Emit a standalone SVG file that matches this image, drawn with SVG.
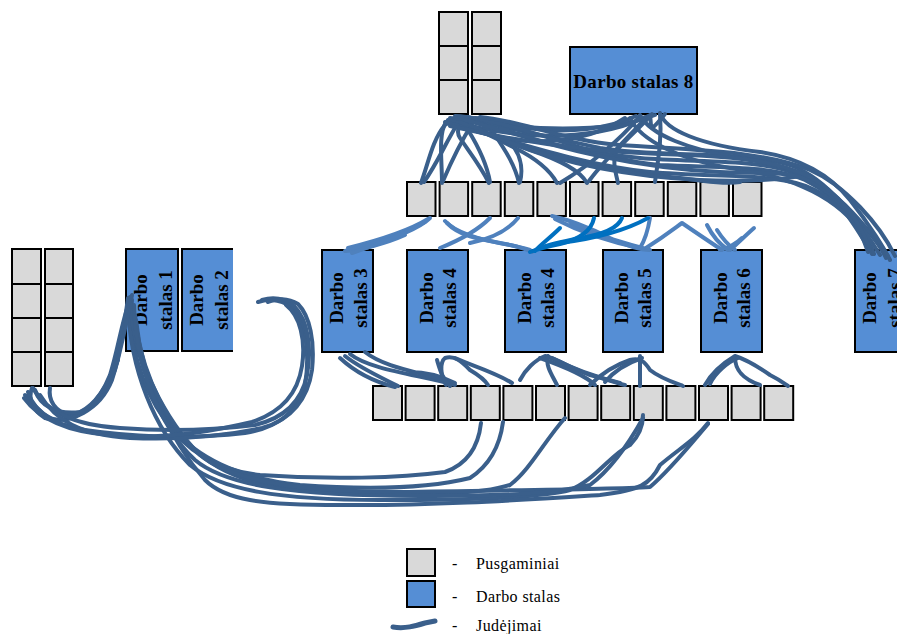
<svg xmlns="http://www.w3.org/2000/svg" width="897" height="634" viewBox="0 0 897 634">
  <style>
    .cell { fill: #d9d9d9; stroke: #000; stroke-width: 2; }
    .desk { fill: #558ed5; stroke: #000; stroke-width: 2; }
    .lbl { font-family: "Liberation Serif", "Times New Roman", serif; font-weight: bold; font-size: 19px; fill: #000; }
    .leg { font-family: "Liberation Serif", "Times New Roman", serif; font-size: 16px; fill: #000; letter-spacing: 0.4px; }
    .mv { fill: none; stroke: #3a5f8b; stroke-width: 4; stroke-linecap: round; stroke-linejoin: round; }
    .lt { stroke: #4f81bd; }
    .br { stroke: #0070c0; }
  </style>

  <rect width="897" height="634" fill="#fff"/>

  <!-- storage racks (semi-finished parts) -->
  <g id="rack-top">
    <rect class="cell" x="439" y="12" width="29" height="34"/>
    <rect class="cell" x="439" y="46" width="29" height="34"/>
    <rect class="cell" x="439" y="80" width="29" height="34"/>
    <rect class="cell" x="472" y="12" width="29" height="34"/>
    <rect class="cell" x="472" y="46" width="29" height="34"/>
    <rect class="cell" x="472" y="80" width="29" height="34"/>
  </g>
  <g id="rack-left">
    <rect class="cell" x="12" y="249" width="29" height="35"/>
    <rect class="cell" x="12" y="284" width="29" height="34"/>
    <rect class="cell" x="12" y="318" width="29" height="34"/>
    <rect class="cell" x="12" y="352" width="29" height="34"/>
    <rect class="cell" x="45" y="249" width="28" height="35"/>
    <rect class="cell" x="45" y="284" width="28" height="34"/>
    <rect class="cell" x="45" y="318" width="28" height="34"/>
    <rect class="cell" x="45" y="352" width="28" height="34"/>
  </g>
  <g id="row-upper">
    <rect class="cell" x="407" y="182" width="28.5" height="34"/>
    <rect class="cell" x="439.6" y="182" width="28.5" height="34"/>
    <rect class="cell" x="472.2" y="182" width="28.5" height="34"/>
    <rect class="cell" x="504.8" y="182" width="28.5" height="34"/>
    <rect class="cell" x="537.4" y="182" width="28.5" height="34"/>
    <rect class="cell" x="570" y="182" width="28.5" height="34"/>
    <rect class="cell" x="602.6" y="182" width="28.5" height="34"/>
    <rect class="cell" x="635.2" y="182" width="28.5" height="34"/>
    <rect class="cell" x="667.8" y="182" width="28.5" height="34"/>
    <rect class="cell" x="700.4" y="182" width="28.5" height="34"/>
    <rect class="cell" x="733" y="182" width="28.5" height="34"/>
  </g>
  <g id="row-lower">
    <rect class="cell" x="373" y="386" width="29" height="34"/>
    <rect class="cell" x="405.6" y="386" width="29" height="34"/>
    <rect class="cell" x="438.2" y="386" width="29" height="34"/>
    <rect class="cell" x="470.8" y="386" width="29" height="34"/>
    <rect class="cell" x="503.4" y="386" width="29" height="34"/>
    <rect class="cell" x="536" y="386" width="29" height="34"/>
    <rect class="cell" x="568.6" y="386" width="29" height="34"/>
    <rect class="cell" x="601.2" y="386" width="29" height="34"/>
    <rect class="cell" x="633.8" y="386" width="29" height="34"/>
    <rect class="cell" x="666.4" y="386" width="29" height="34"/>
    <rect class="cell" x="699" y="386" width="29" height="34"/>
    <rect class="cell" x="731.6" y="386" width="29" height="34"/>
    <rect class="cell" x="764.2" y="386" width="29" height="34"/>
  </g>

  <!-- work tables -->
  <g id="desk-1">
    <rect class="desk" x="126" y="249" width="52" height="102"/>
    <text class="lbl" text-anchor="middle" transform="translate(152,300) rotate(-90)"><tspan x="0" y="-5">Darbo</tspan><tspan x="0" y="20">stalas 1</tspan></text>
  </g>
  <g id="desk-2">
    <rect x="182" y="249" width="51" height="102" fill="#558ed5"/>
    <path d="M233,249 H182 V351 H233" fill="none" stroke="#000" stroke-width="2"/>
    <text class="lbl" text-anchor="middle" transform="translate(207.5,300) rotate(-90)"><tspan x="0" y="-5">Darbo</tspan><tspan x="0" y="20">stalas 2</tspan></text>
  </g>
  <g id="desk-3">
    <rect class="desk" x="322" y="250" width="51" height="102"/>
    <text class="lbl" text-anchor="middle" transform="translate(348,298) rotate(-90)"><tspan x="0" y="-5">Darbo</tspan><tspan x="0" y="19">stalas 3</tspan></text>
  </g>
  <g id="desk-4a">
    <rect class="desk" x="407" y="250" width="61" height="102"/>
    <text class="lbl" text-anchor="middle" transform="translate(437.5,298) rotate(-90)"><tspan x="0" y="-5">Darbo</tspan><tspan x="0" y="18">stalas 4</tspan></text>
  </g>
  <g id="desk-4b">
    <rect class="desk" x="505" y="250" width="61" height="102"/>
    <text class="lbl" text-anchor="middle" transform="translate(535.5,298) rotate(-90)"><tspan x="0" y="-5">Darbo</tspan><tspan x="0" y="18">stalas 4</tspan></text>
  </g>
  <g id="desk-5">
    <rect class="desk" x="603" y="250" width="60" height="102"/>
    <text class="lbl" text-anchor="middle" transform="translate(633,298) rotate(-90)"><tspan x="0" y="-5">Darbo</tspan><tspan x="0" y="18">stalas 5</tspan></text>
  </g>
  <g id="desk-6">
    <rect class="desk" x="701" y="250" width="61" height="102"/>
    <text class="lbl" text-anchor="middle" transform="translate(731.5,298) rotate(-90)"><tspan x="0" y="-5">Darbo</tspan><tspan x="0" y="18">stalas 6</tspan></text>
  </g>
  <g id="desk-7">
    <rect class="desk" x="855" y="250" width="52" height="102"/>
    <text class="lbl" text-anchor="middle" transform="translate(881,298) rotate(-90)"><tspan x="0" y="-5">Darbo</tspan><tspan x="0" y="20">stalas 7</tspan></text>
  </g>
  <g id="desk-8">
    <rect class="desk" x="570" y="47" width="127" height="67"/>
    <text class="lbl" x="633.5" y="88" text-anchor="middle" letter-spacing="0.3">Darbo stalas 8</text>
  </g>

  <!-- movement paths -->
  <g id="connectors">
    <!-- upper rack / table 8 fan-out to the upper row -->
    <path class="mv" d="M421,183 C428,165 432,140 445,125 C455,117 470,120 480,118"/>
    <path class="mv" d="M424,182 C438,162 446,142 458,123"/>
    <path class="mv" d="M442,183 C442,160 438,135 446,122 C456,114 472,118 490,122"/>
    <path class="mv" d="M443,181 C452,160 462,140 472,124"/>
    <path class="mv" d="M489,183 C480,165 468,150 460,138 C455,130 460,122 470,120"/>
    <path class="mv" d="M490,182 C487,165 478,146 468,130"/>
    <path class="mv" d="M519,183 C515,165 505,150 495,135 C488,125 480,120 468,117"/>
    <path class="mv" d="M520,182 C524,166 519,151 508,140"/>
    <path class="mv" d="M557,183 C550,170 535,158 515,148 C495,138 475,128 458,120"/>
    <path class="mv" d="M587,183 C580,170 560,160 530,150 C505,142 480,130 463,122"/>
    <path class="mv" d="M589,181 C600,165 625,140 648,116"/>
    <path class="mv" d="M560,183 C590,165 620,140 640,116"/>
    <path class="mv" d="M618,183 C615,170 612,160 617,150 C627,138 642,126 652,114"/>
    <path class="mv" d="M655,182 C658,160 662,140 660,114"/>
    <path class="mv" d="M650,115 C652,128 648,135 665,114"/>
    <path class="mv" d="M655,115 C630,125 590,130 540,128 C500,126 470,120 450,118"/>
    <path class="mv" d="M645,117 C620,130 580,138 530,135 C490,132 465,125 448,120"/>
    <path class="mv" d="M636,116 C610,128 570,135 520,127 C490,122 470,116 455,116"/>
    <path class="mv" d="M625,118 C600,135 560,145 515,140 C485,135 468,128 452,124"/>

    <!-- long run towards table 7 -->
    <path class="mv" d="M455,118 C500,125 540,135 600,148 C660,158 740,150 790,165 C830,180 858,220 868,252"/>
    <path class="mv" d="M465,120 C520,135 560,150 640,158 C700,163 760,158 800,175 C835,190 855,225 872,254"/>
    <path class="mv" d="M475,118 C540,130 600,160 660,165 C720,168 770,165 805,180 C840,198 870,230 885,254"/>
    <path class="mv" d="M445,122 C510,140 580,165 650,172 C720,178 780,172 815,190 C845,205 875,235 888,256"/>
    <path class="mv" d="M480,117 C520,120 560,140 620,145 C690,150 760,150 810,170 C845,185 880,225 895,256"/>
    <path class="mv" d="M640,115 C650,135 690,150 740,158 C790,165 820,180 845,205 C865,225 880,245 886,258"/>
    <path class="mv" d="M660,113 C665,130 700,145 760,152 C800,158 830,175 850,200 C870,225 885,250 890,260"/>
    <path class="mv" d="M630,118 C640,140 680,160 730,168 C780,175 830,190 860,230 C868,240 872,248 874,254"/>
    <path class="mv" d="M460,122 C520,150 600,172 680,178 C710,182 728,184 740,182"/>
    <path class="mv" d="M470,125 C540,160 620,176 700,180 C740,182 780,180 800,176"/>
    <path class="mv" d="M500,128 C560,150 640,168 720,172 C760,174 790,170 812,182 C840,198 862,225 880,255"/>
    <path class="mv" d="M450,126 C520,142 590,152 660,154 C730,156 775,160 808,176 C838,192 860,220 870,250"/>

    <!-- upper row to tables 3-6 (light strokes) -->
    <path class="mv lt" d="M428,219 C410,230 380,240 348,248"/>
    <path class="mv lt" d="M425,222 C405,233 375,245 345,251 C360,250 385,244 405,235"/>
    <path class="mv lt" d="M430,218 C420,228 395,238 352,253"/>
    <path class="mv lt" d="M445,221 C455,232 480,240 510,245 C520,247 528,250 532,252"/>
    <path class="mv lt" d="M447,223 C465,242 500,240 530,250"/>
    <path class="mv lt" d="M490,218 C480,228 465,238 440,248"/>
    <path class="mv lt" d="M518,218 C510,228 495,238 470,243"/>
    <path class="mv lt" d="M552,216 C570,220 590,228 610,238 C625,245 640,250 650,250 C630,245 600,236 570,225"/>
    <path class="mv lt" d="M555,219 C580,232 610,242 640,248"/>
    <path class="mv lt" d="M650,218 C648,230 645,240 640,248"/>
    <path class="mv lt" d="M646,248 C665,236 675,228 682,223 C695,232 710,242 722,250"/>
    <path class="mv lt" d="M707,225 C712,235 718,243 728,250"/>
    <path class="mv lt" d="M754,228 C745,236 738,243 730,250"/>
    <path class="mv lt" d="M717,230 C722,238 728,245 735,250"/>
    <path class="mv lt" d="M742,238 C735,245 728,248 720,250"/>
    <path class="mv br" d="M594,218 C592,228 585,238 560,244 C545,247 535,250 530,252"/>
    <path class="mv br" d="M622,218 C618,228 605,234 580,238 C560,242 545,246 540,248"/>
    <path class="mv br" d="M648,218 C630,228 600,238 560,243"/>
    <path class="mv br" d="M560,228 C550,238 540,245 535,251"/>

    <!-- tables 3-6 to lower row -->
    <path class="mv" d="M345,356 C360,368 378,376 398,386"/>
    <path class="mv" d="M350,354 C370,370 420,375 455,385"/>
    <path class="mv" d="M365,352 C385,368 420,372 455,383 C445,378 430,372 410,372"/>
    <path class="mv" d="M340,358 C355,372 375,382 395,387"/>
    <path class="mv" d="M446,385 C440,375 440,362 445,358 C455,355 462,362 470,370 C480,376 485,380 488,385"/>
    <path class="mv" d="M455,358 C470,365 495,372 512,383"/>
    <path class="mv" d="M437,360 C440,370 442,378 450,386"/>
    <path class="mv" d="M520,380 C525,370 535,360 545,356 C560,360 570,368 590,375 C610,380 620,384 625,385"/>
    <path class="mv" d="M548,356 C545,365 552,375 557,385"/>
    <path class="mv" d="M540,358 C560,365 585,375 595,385"/>
    <path class="mv" d="M552,358 C575,370 600,378 620,383"/>
    <path class="mv" d="M590,385 C600,375 615,365 630,360 C640,357 645,362 650,370 C660,378 675,383 683,386"/>
    <path class="mv" d="M640,356 C640,368 640,378 640,386"/>
    <path class="mv" d="M605,382 C615,370 630,362 642,358"/>
    <path class="mv" d="M705,385 C712,372 725,362 735,356 C748,360 760,368 770,375 C780,380 785,384 788,386"/>
    <path class="mv" d="M735,357 C735,368 740,378 760,385"/>
    <path class="mv" d="M710,384 C715,373 728,362 738,358"/>

    <!-- table 1 to lower row -->
    <path class="mv" d="M132,300 C128,340 140,385 165,420 C185,450 215,470 260,475 C330,480 400,478 445,472 C465,465 478,450 481,423"/>
    <path class="mv" d="M130,297 C133,350 150,395 175,430 C195,455 235,478 300,485 C370,490 430,488 470,478 C490,465 500,445 503,422"/>
    <path class="mv" d="M135,315 C138,360 160,410 185,440 C215,475 260,490 340,493 C420,495 480,495 510,485 C530,470 545,440 565,418"/>
    <path class="mv" d="M128,305 C130,370 155,430 190,465 C220,490 280,500 380,500 C460,500 540,498 570,490 C595,480 610,455 630,445 C640,435 643,425 643,415"/>
    <path class="mv" d="M136,320 C142,380 170,440 205,480 C225,500 260,505 340,505 C430,506 520,500 600,495 C640,490 650,485 660,465 C680,448 695,440 708,423"/>
    <path class="mv" d="M131,310 C135,360 165,420 200,455 C230,480 300,492 400,492 C500,490 600,490 650,487 C670,470 690,445 708,424"/>
    <path class="mv" d="M134,305 C136,365 158,425 195,460 C225,485 290,496 420,496 C520,496 560,492 590,485 C610,470 628,445 643,418"/>

    <!-- left rack to table 1 -->
    <path class="mv" d="M32,388 C28,398 32,410 45,418 C70,425 100,410 112,380 C120,355 125,320 128,298"/>
    <path class="mv" d="M50,388 C48,400 55,412 70,415 C90,412 105,395 115,370 C122,345 128,315 132,295"/>
    <path class="mv" d="M25,395 C35,405 45,420 60,420 C85,418 100,400 110,375 C118,350 122,320 130,300"/>
    <path class="mv" d="M35,390 C40,405 55,415 80,412 C95,405 108,385 118,360"/>

    <!-- left rack loop to table 2 -->
    <path class="mv" d="M28,392 C35,415 60,428 100,432 C150,438 200,438 245,433 C278,428 300,410 305,385 C310,355 306,325 295,310 C285,300 270,298 258,302"/>
    <path class="mv" d="M33,388 C45,410 70,425 120,428 C170,432 215,430 255,425 C285,418 302,400 307,375 C312,348 308,320 294,306 C284,298 272,297 262,300"/>
    <path class="mv" d="M40,395 C55,420 80,435 130,438 C180,440 225,436 262,428 C292,420 308,398 312,370 C315,342 310,316 298,304 C288,298 276,298 268,302"/>
    <path class="mv" d="M24,398 C40,420 70,432 110,435 C160,440 210,432 252,422 C282,412 298,392 302,366 C306,340 300,316 286,305"/>
  </g>

  <!-- legend -->
  <g id="legend">
    <rect class="cell" x="407" y="549" width="28" height="27"/>
    <rect class="desk" x="407" y="581" width="28" height="26"/>
    <path d="M393,627 C405,629 415,626 425,623 L435,621" fill="none" stroke="#3a5f8b" stroke-width="5" stroke-linecap="round"/>
    <text class="leg" x="452" y="569">-</text>
    <text class="leg" x="476" y="569">Pusgaminiai</text>
    <text class="leg" x="452" y="602">-</text>
    <text class="leg" x="476" y="602">Darbo stalas</text>
    <text class="leg" x="452" y="631">-</text>
    <text class="leg" x="476" y="631">Judėjimai</text>
  </g>
</svg>
